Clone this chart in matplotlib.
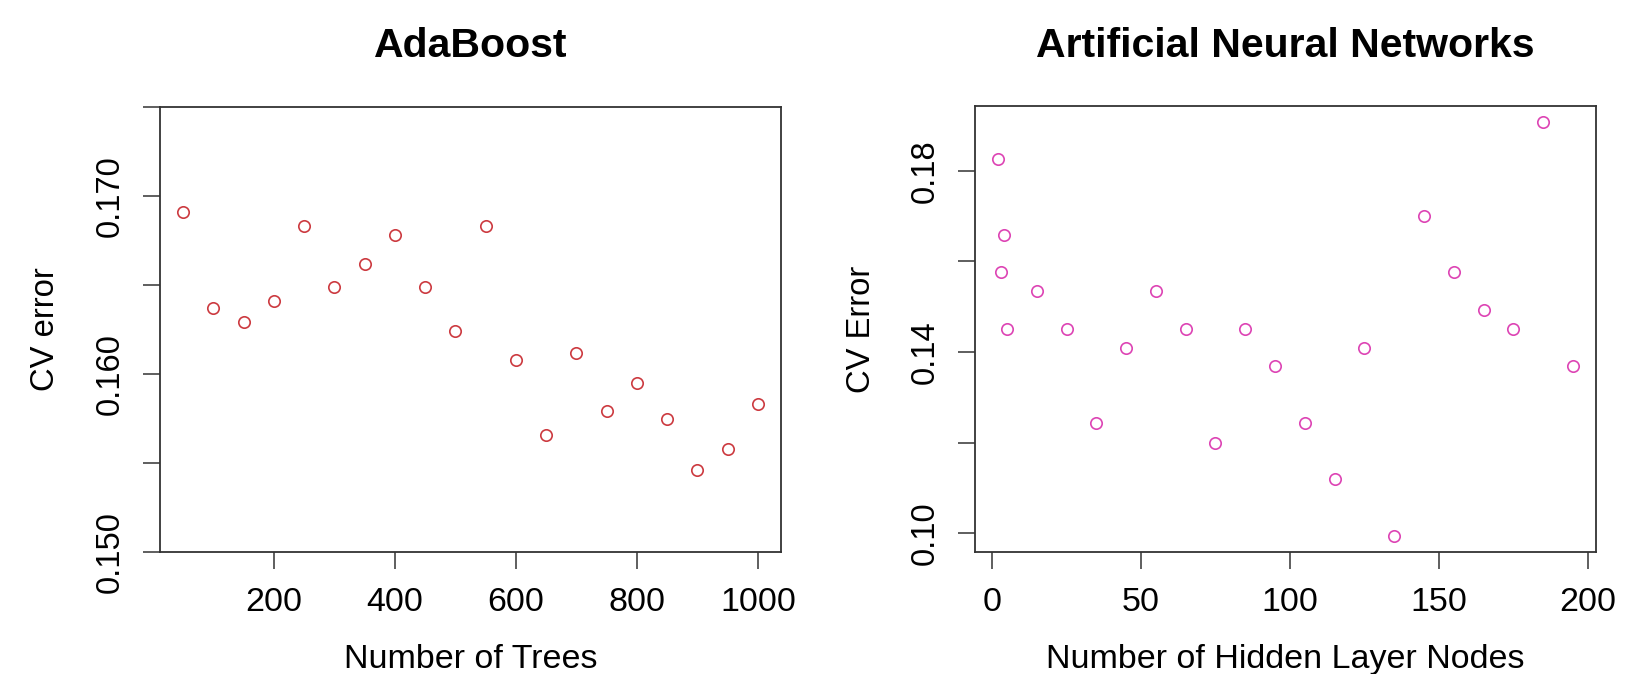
import matplotlib
matplotlib.use("Agg")
import matplotlib.pyplot as plt

# ---- data ----
ada_trees = [50, 100, 150, 200, 250, 300, 350, 400, 450, 500,
             550, 600, 650, 700, 750, 800, 850, 900, 950, 1000]
ada_err = [0.1691, 0.1637, 0.1629, 0.1641, 0.1683, 0.1649, 0.1662, 0.1678, 0.1649, 0.1624,
           0.1683, 0.1608, 0.1566, 0.1612, 0.1579, 0.1595, 0.1575, 0.1546, 0.1558, 0.1583]

ann_nodes = [2, 3, 4, 5, 15, 25, 35, 45, 55, 65, 75, 85, 95, 105,
             115, 125, 135, 145, 155, 165, 175, 185, 195]
ann_err = [0.1825, 0.1576, 0.1659, 0.1452, 0.1535, 0.1452, 0.1244, 0.1410, 0.1535, 0.1452,
           0.1200, 0.1452, 0.1369, 0.1244, 0.1119, 0.1410, 0.0995, 0.1701, 0.1576, 0.1493,
           0.1452, 0.1908, 0.1369]

ada_xticks = [200, 400, 600, 800, 1000]
ada_yticks = [0.150, 0.155, 0.160, 0.165, 0.170, 0.175]
ada_yticklabels = ["0.150", "", "0.160", "", "0.170", ""]
ann_xticks = [0, 50, 100, 150, 200]
ann_yticks = [0.10, 0.12, 0.14, 0.16, 0.18]
ann_yticklabels = ["0.10", "", "0.14", "", "0.18"]

titles = ["AdaBoost", "Artificial Neural Networks"]
xlabels = ["Number of Trees", "Number of Hidden Layer Nodes"]
ylabels = ["CV error", "CV Error"]
colors = ["#CC3A40", "#DD44B4"]

plt.rcParams['font.family'] = ['Liberation Sans', 'DejaVu Sans']

W, H = 1643, 674
fig = plt.figure(figsize=(W / 100, H / 100), dpi=100)

def frac_ax(x0, y0, x1, y1):
    return fig.add_axes([x0 / W, 1 - y1 / H, (x1 - x0) / W, (y1 - y0) / H])

ax1 = frac_ax(160, 107, 781, 552)
ax2 = frac_ax(975, 106, 1596, 552)

FSX = 24.5
FSY = 23.6
panels = [
    (ax1, ada_trees, ada_err, ada_xticks, ada_yticks, ada_yticklabels, (12, 1038), (0.150, 0.175)),
    (ax2, ann_nodes, ann_err, ann_xticks, ann_yticks, ann_yticklabels, (-5.72, 202.72), (0.0959, 0.1943)),
]

ylab_x = [46, 861]
for i, (ax, x, y, xt, yt, ytl, xl, yl) in enumerate(panels):
    ax.plot(x, y, linestyle='none', marker='o', markersize=8.2,
            markerfacecolor='none', markeredgecolor=colors[i], markeredgewidth=1.2)
    ax.set_xlim(*xl)
    ax.set_ylim(*yl)
    ax.set_xticks(xt)
    ax.set_xticklabels([str(v) for v in xt])
    ax.set_yticks(yt)
    ax.set_yticklabels(ytl, rotation=90, va='center')
    ax.tick_params(axis='both', direction='out', length=12, width=1.1,
                   color='#333333', pad=13)
    ax.tick_params(axis='x', labelsize=FSX)
    ax.tick_params(axis='y', labelsize=FSY)
    for s in ax.spines.values():
        s.set_linewidth(1.3)
        s.set_color('#333333')
    pos = ax.get_position()
    cx = (pos.x0 + pos.x1) / 2
    fig.text(cx, 1 - 57 / H, titles[i], ha='center', va='baseline',
             fontsize=29.5, fontweight='bold')
    fig.text(cx, 1 - 668 / H, xlabels[i], ha='center', va='baseline', fontsize=FSX)
    fig.text(ylab_x[i] / W, 1 - 329 / H, ylabels[i], ha='center', va='center',
             rotation=90, fontsize=FSY)

fig.savefig("out.png", dpi=100)
